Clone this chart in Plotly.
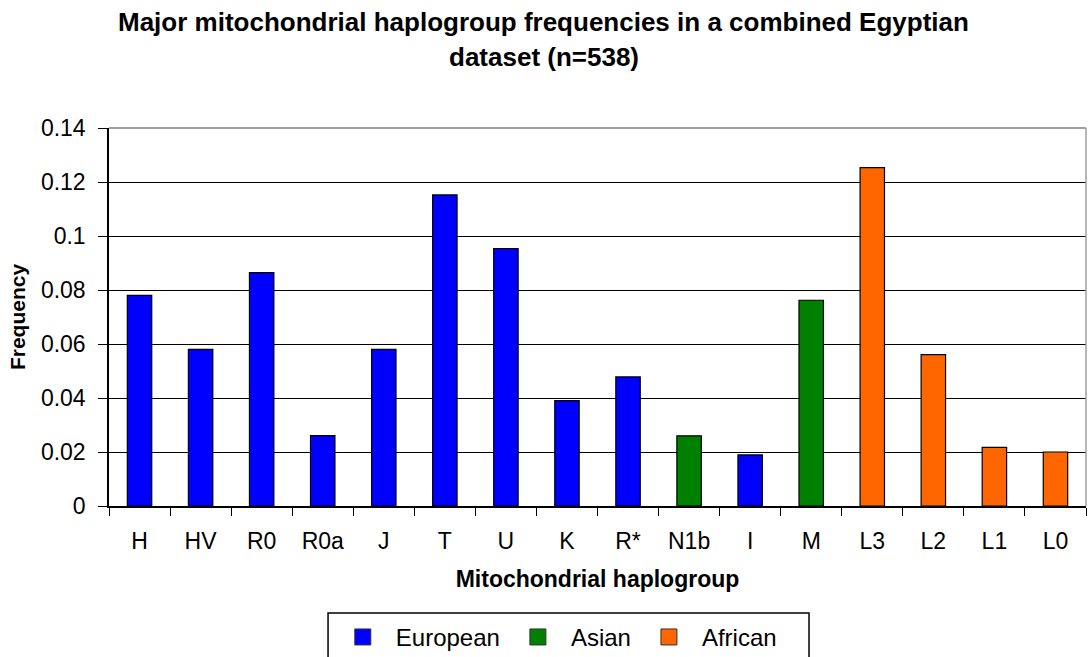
import plotly.graph_objects as go

# Haplogroup frequencies (n=538) grouped by geographic origin
haplogroups = ["H", "HV", "R0", "R0a", "J", "T", "U", "K", "R*", "N1b", "I", "M", "L3", "L2", "L1", "L0"]
frequencies = [0.078, 0.058, 0.0864, 0.0261, 0.058, 0.1152, 0.0953, 0.039, 0.0478, 0.026, 0.0189, 0.0762, 0.1253, 0.0561, 0.0217, 0.020]
origins = ["European", "European", "European", "European", "European", "European", "European", "European",
           "European", "Asian", "European", "Asian", "African", "African", "African", "African"]

region_order = ["European", "Asian", "African"]
region_colors = {"European": "#0000FF", "Asian": "#008000", "African": "#FF6600"}

title_lines = ["Major mitochondrial haplogroup frequencies in a combined Egyptian", "dataset (n=538)"]

FONT = "Liberation Sans, Arial, sans-serif"

fig = go.Figure()

for region in region_order:
    xs = [h for h, o in zip(haplogroups, origins) if o == region]
    ys = [f for f, o in zip(frequencies, origins) if o == region]
    fig.add_trace(go.Bar(
        x=xs, y=ys, name=region, showlegend=False,
        marker=dict(color=region_colors[region], line=dict(color="#000000", width=1.2)),
    ))

# Legend swatches
for region in region_order:
    fig.add_trace(go.Scatter(
        x=[None], y=[None], mode="markers", name=region,
        marker=dict(symbol="square", size=16, color=region_colors[region],
                    line=dict(color="#333333", width=1)),
    ))

# Two-line chart title
title_annotations = [
    dict(text=f"<b>{line}</b>", xref="paper", yref="paper", x=0.4452, y=yy,
         xanchor="center", yanchor="middle", showarrow=False,
         font=dict(family=FONT, size=26, color="#000000"))
    for line, yy in zip(title_lines, [1.2804, 1.1878])
]

fig.update_layout(
    width=1088, height=657,
    paper_bgcolor="white", plot_bgcolor="white",
    margin=dict(l=109, r=2, t=128, b=151, autoexpand=False),
    barmode="overlay", bargap=0.6,
    font=dict(family=FONT, color="#000000"),
    annotations=title_annotations,
    xaxis=dict(
        categoryorder="array", categoryarray=haplogroups,
        tickson="boundaries", ticks="outside", ticklen=8, tickwidth=1.2, tickcolor="#000000",
        showline=True, linecolor="#000000", linewidth=1.5,
        tickfont=dict(size=23), ticklabelstandoff=14,
        title=dict(text="Mitochondrial haplogroup", standoff=18,
                   font=dict(size=23, weight="bold")),
        showgrid=False, zeroline=False,
    ),
    yaxis=dict(
        range=[0, 0.14], tickvals=[0, 0.02, 0.04, 0.06, 0.08, 0.1, 0.12, 0.14],
        ticktext=["0", "0.02", "0.04", "0.06", "0.08", "0.1", "0.12", "0.14"],
        ticks="outside", ticklen=9, tickwidth=1.2, tickcolor="#000000",
        showline=True, linecolor="#000000", linewidth=1.5,
        showgrid=True, gridcolor="#000000", gridwidth=1.2,
        tickfont=dict(size=23), ticklabelstandoff=8,
        title=dict(text="Frequency", standoff=10, font=dict(size=21, weight="bold")),
        zeroline=False,
    ),
    legend=dict(
        orientation="h", x=0.226, xanchor="left", y=-0.288, yanchor="top",
        borderwidth=0, bgcolor="rgba(0,0,0,0)",
        font=dict(size=24), itemwidth=56,
    ),
    shapes=[
        # grey plot-area border on the top and right sides
        dict(type="line", xref="paper", yref="paper", x0=0, x1=1, y0=1, y1=1,
             line=dict(color="#808080", width=1.5), layer="above"),
        dict(type="line", xref="paper", yref="paper", x0=1, x1=1, y0=0, y1=1,
             line=dict(color="#a0a0a0", width=1.5), layer="above"),
        # legend frame
        dict(type="rect", xref="paper", yref="paper", x0=0.2242, x1=0.7165, y0=-0.283, y1=-0.5,
             line=dict(color="#000000", width=1.5), fillcolor="rgba(0,0,0,0)", layer="above"),
    ],
)

fig.write_html("out.html")
